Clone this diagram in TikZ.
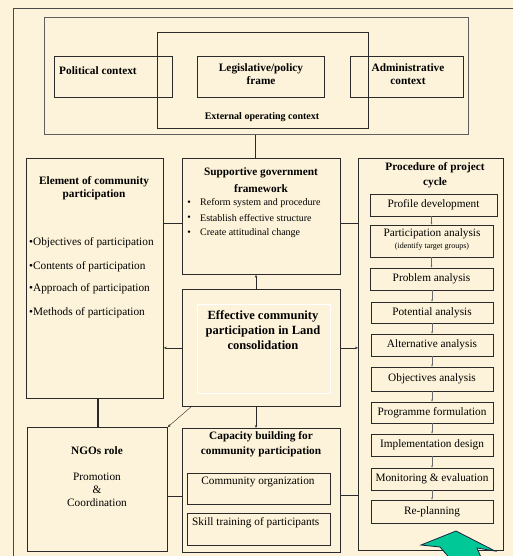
\documentclass[tikz,border=0pt]{standalone}
\usepackage{fontspec}
\setmainfont{Liberation Serif}
\usetikzlibrary{arrows.meta}
\definecolor{bg}{HTML}{FDF3DA}
\definecolor{ln}{HTML}{2A2A2A}
\definecolor{grn}{HTML}{00C896}
\definecolor{navy}{HTML}{1A2440}
\begin{document}
\begin{tikzpicture}[x=1pt,y=-1pt,
 box/.style={draw=ln, line width=0.8pt, anchor=north west, inner sep=0pt},
 pbox/.style={draw=ln, line width=0.8pt, inner sep=0pt},
 ttl/.style={font=\fontsize{11.3}{12.5}\selectfont\bfseries, align=center, inner sep=0pt},
 txt/.style={font=\fontsize{11.3}{13}\selectfont, inner sep=0pt},
 sml/.style={font=\fontsize{10}{12}\selectfont, inner sep=0pt},
 arr/.style={-{Stealth[length=3pt,width=2.4pt]}, draw=ln, line width=0.5pt},
 parr/.style={-{Stealth[length=2.2pt,width=1.8pt]}, draw=ln!70, line width=0.4pt},
 con/.style={draw=ln, line width=0.6pt}]
\fill[bg] (0,0) rectangle (513,556);
\useasboundingbox (0,0) rectangle (513,556);
% outer frame
\coordinate (fA) at (13,556);
\coordinate (fB) at (13,8);
\coordinate (fC) at (513,8);
\draw[ln!85, line width=0.8pt] (fA) -- (fB) -- (fC);
% context boxes
\node[box, draw=ln!75, minimum width=424pt, minimum height=117pt] (ctx) at (44,17) {};
\node[box, minimum width=211pt, minimum height=96pt] (ext) at (157,32) {};
\node[box, minimum width=118pt, minimum height=41pt] (pol) at (54,56) {};
\node[box, minimum width=127pt, minimum height=41pt] (leg) at (197,56) {};
\node[box, minimum width=113pt, minimum height=41pt] (adm) at (350,56) {};
\node[ttl, anchor=west] (tpol) at (59,71) {Political context};
\node[ttl, font=\fontsize{11.3}{13}\selectfont\bfseries] (tleg) at (261,74) {Legislative/policy\\frame};
\node[ttl, font=\fontsize{11.3}{13}\selectfont\bfseries] (tadm) at (408,74) {Administrative\\context};
\node[ttl, font=\fontsize{10}{12}\selectfont\bfseries] (text) at (262,117) {External operating context};
% main boxes
\node[box, minimum width=137pt, minimum height=240pt] (elem) at (26,158) {};
\node[box, minimum width=158pt, minimum height=116pt] (sup) at (182,158) {};
\node[box, minimum width=145pt, minimum height=392pt] (proc) at (358,158) {};
\node[box, minimum width=158pt, minimum height=117pt] (eff) at (182,289) {};
\node[box, draw=white, line width=0.6pt, minimum width=133pt, minimum height=89pt] (effin) at (197,304) {};
\node[box, minimum width=140pt, minimum height=124pt] (ngo) at (27,427) {};
\node[box, minimum width=158pt, minimum height=124pt] (cap) at (182,428) {};
\node[box, minimum width=143pt, minimum height=31pt] (co) at (187,473) {};
\node[box, minimum width=143pt, minimum height=32pt] (sk) at (187,513) {};
% element text
\node[ttl] (telem) at (94,188) {Element of community\\participation};
\node[txt, anchor=west] (e1) at (29,243) {•Objectives of participation};
\node[txt, anchor=west] (e2) at (29,267) {•Contents of participation};
\node[txt, anchor=west] (e3) at (29,289) {•Approach of participation};
\node[txt, anchor=west] (e4) at (29,313) {•Methods of participation};
% supportive text
\node[ttl, font=\fontsize{11.3}{17}\selectfont\bfseries] (tsup) at (261,180) {Supportive government\\framework};
\node[sml] (b1) at (189,203) {•};
\node[sml] (b2) at (189,218) {•};
\node[sml] (b3) at (189,233) {•};
\node[sml, anchor=west] (s1) at (200,203) {Reform system and procedure};
\node[sml, anchor=west] (s2) at (200,218) {Establish effective structure};
\node[sml, anchor=west] (s3) at (200,233) {Create attitudinal change};
% procedure
\node[ttl, font=\fontsize{11.3}{15}\selectfont\bfseries] (tproc) at (435,175) {Procedure of project\\cycle};
\node[pbox, minimum width=127pt, minimum height=22pt] (p1) at (433.5,205) {};
\node[pbox, minimum width=123pt, minimum height=32pt] (p2) at (431.5,241) {};
\node[pbox, minimum width=123pt, minimum height=22pt] (p3) at (431.5,279) {};
\node[pbox, minimum width=122pt, minimum height=21pt] (p4) at (432,312.5) {};
\node[pbox, minimum width=122pt, minimum height=22pt] (p5) at (432,345) {};
\node[pbox, minimum width=122pt, minimum height=24pt] (p6) at (432,379) {};
\node[pbox, minimum width=122pt, minimum height=21pt] (p7) at (432,412.5) {};
\node[pbox, minimum width=122pt, minimum height=22pt] (p8) at (432,445) {};
\node[pbox, minimum width=122pt, minimum height=22pt] (p9) at (432,479) {};
\node[pbox, minimum width=122pt, minimum height=23pt] (p10) at (432,511.5) {};
\node[txt] (tp1) at (p1) {Profile development};
\node[txt] (tp2a) at (432,234) {Participation analysis};
\node[inner sep=0pt, font=\fontsize{8}{9}\selectfont] (tp2b) at (432,247) {(identify target groups)};
\node[txt] (tp3) at (p3) {Problem analysis};
\node[txt] (tp4) at (p4) {Potential analysis};
\node[txt] (tp5) at (p5) {Alternative analysis};
\node[txt] (tp6) at (p6) {Objectives analysis};
\node[txt] (tp7) at (p7) {Programme formulation};
\node[txt] (tp8) at (p8) {Implementation design};
\node[txt] (tp9) at (p9) {Monitoring \& evaluation};
\node[txt] (tp10) at (p10) {Re-planning};
\foreach \a/\b in {p1/p2,p2/p3,p3/p4,p4/p5,p5/p6,p6/p7,p7/p8,p8/p9,p9/p10}
  \draw[parr] (\a.south -| \b.north) -- (\b.north);
% effective
\node[ttl, font=\fontsize{12.5}{15}\selectfont\bfseries] (teff) at (263,330) {Effective community\\participation in Land\\consolidation};
% NGOs
\node[ttl] (tngo) at (97,451) {NGOs role};
\node[txt, align=center, font=\fontsize{11.3}{13}\selectfont] (tngo2) at (97,490) {Promotion\\\&\\Coordination};
% capacity
\node[ttl, font=\fontsize{11.3}{15}\selectfont\bfseries] (tcap) at (261,444) {Capacity building for\\community participation};
\node[txt] (tco) at (258,482) {Community organization};
\node[txt, anchor=west] (tsk) at (192,523) {Skill training of participants};
% connectors
\coordinate (x255) at (255,0);
\coordinate (x256) at (256,0);
\coordinate (y223) at (0,223);
\coordinate (x98) at (98,0);
\coordinate (y496) at (0,496);
\coordinate (y495) at (0,495);
\coordinate (dstart) at (192,406);
\draw[con] (ctx.south -| x255) -- (sup.north -| x255);
\draw[con] (elem.east |- y223) -- (sup.west |- y223);
\draw[con] (sup.east |- y223) -- (proc.west |- y223);
\draw[arr] (eff.north -| x256) -- (sup.south -| x256);
\draw[arr] (eff.west) -- (eff.west -| elem.east);
\draw[arr] (eff.east) -- (eff.east -| proc.west);
\draw[arr] (eff.south -| x256) -- (cap.north -| x256);
\draw[arr, line width=0.4pt] (dstart) -- (ngo.north east);
\draw[con, line width=1.2pt] (elem.south -| x98) -- (ngo.north -| x98);
\draw[con] (ngo.east |- y496) -- (cap.west |- y496);
\draw[con] (cap.east |- y495) -- (proc.west |- y495);
% green block arrow
\begin{scope}
\clip (0,0) rectangle (513,556);
\coordinate (g1) at (456,531);
\coordinate (g2) at (495,551);
\coordinate (g3) at (477,548);
\coordinate (g4) at (483,562);
\coordinate (g5) at (453,562);
\coordinate (g6) at (440,547);
\coordinate (g7) at (421,545);
\filldraw[fill=grn, draw=navy, line width=0.8pt] (g1) -- (g2) -- (g3) -- (g4) -- (g5) -- (g6) -- (g7) -- cycle;
\end{scope}
\end{tikzpicture}
\end{document}
